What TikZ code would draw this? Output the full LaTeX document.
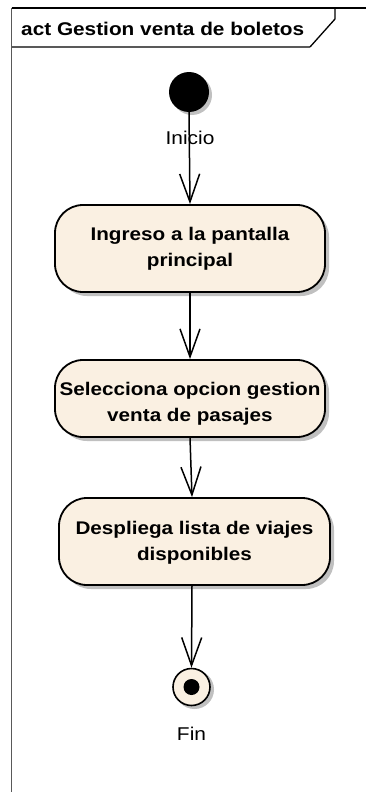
\documentclass[tikz,border=0pt]{standalone}
\usepackage{fontspec}
\setmainfont[FakeStretch=1.13]{Liberation Sans}
\usetikzlibrary{arrows.meta}
\definecolor{actfill}{RGB}{250,240,226}
\definecolor{shadowc}{RGB}{192,192,192}
\tikzset{
  actbox/.style={rectangle, rounded corners=28pt, draw=black, line width=1.8pt, fill=actfill,
    minimum width=270pt, inner sep=0pt},
  actshadow/.style={rectangle, rounded corners=28pt, fill=shadowc, draw=none,
    minimum width=270pt, inner sep=0pt},
  acttext/.style={font=\fontsize{18.3}{26}\selectfont\bfseries, align=center, inner sep=0pt},
  lbl/.style={font=\fontsize{18.5}{22}\selectfont, inner sep=0pt, anchor=base},
  flow/.style={line width=1.5pt, -{Straight Barb[length=28pt,width=20pt,line width=1.5pt]}},
}
\begin{document}
\begin{tikzpicture}[x=1pt,y=-1pt]
\useasboundingbox (0,0) rectangle (366,792);
\fill[white] (0,0) rectangle (366,792);
% frame
\draw[line width=1.5pt, black!65] (11.5,8) -- (11.5,800);
\draw[line width=1.5pt] (11.5,8) -- (370,8);
\draw[line width=1.3pt, black!65] (11.5,47) -- (310,47);
\draw[line width=1.3pt] (335,8) -- (335,19) -- (310,47);
\node[anchor=base west, font=\fontsize{18.4}{22}\selectfont\bfseries, inner sep=0pt] (title) at (21,36) {act Gestion venta de boletos};
% initial node
\fill[shadowc] (192,95) circle (20);
\node[circle, fill=black, minimum size=40pt, inner sep=0pt] (ini) at (189,92) {};
\node[lbl] (inilbl) at (190,144) {Inicio};
% box 1
\node[actshadow, minimum height=87pt] at (194,252.5) {};
\node[actbox, minimum height=87pt] (b1) at (190,248.5) {};
\node[acttext] (t1) at (190,248.5) {Ingreso a la pantalla\\principal};
% box 2
\node[actshadow, minimum height=77pt] at (194,402.5) {};
\node[actbox, minimum height=77pt] (b2) at (190,398.5) {};
\node[acttext] (t2) at (190,404) {Selecciona opcion gestion\\venta de pasajes};
% box 3
\node[actshadow, minimum height=87pt, minimum width=271pt] at (198.5,545.5) {};
\node[actbox, minimum height=87pt, minimum width=271pt] (b3) at (194.5,541.5) {};
\node[acttext] (t3) at (194.5,542.5) {Despliega lista de viajes\\disponibles};
% final node
\fill[shadowc] (194.5,689.5) circle (19.5);
\node[circle, draw=black, line width=1.6pt, fill=actfill, minimum size=37pt, inner sep=0pt] (fin) at (191.5,687) {};
\fill[black] (fin.center) circle (8);
\node[lbl] (finlbl) at (191.5,740.5) {Fin};
% flows
\draw[flow] (ini.south) -- (b1.north);
\draw[flow] (b1.south) -- (b2.north);
\draw[flow] (b2.south) -- ([xshift=-2.5pt]b3.north);
\draw[flow] ([xshift=-2.5pt]b3.south) -- (fin.north);
\end{tikzpicture}
\end{document}
